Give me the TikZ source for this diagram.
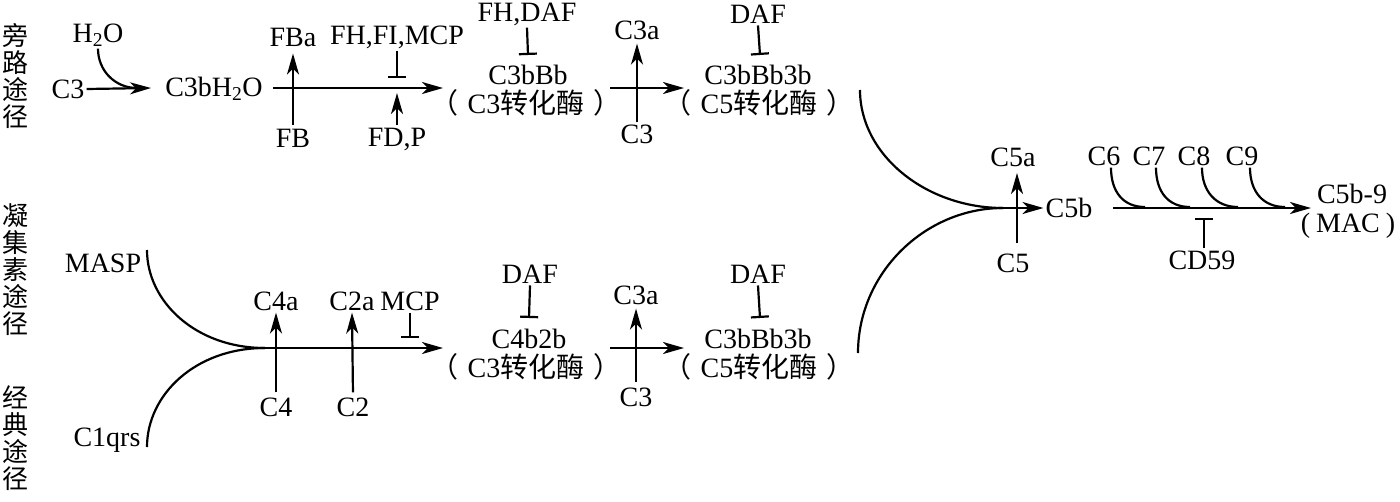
\documentclass[tikz,border=0pt]{standalone}
\usepackage{fontspec}
\setmainfont{Liberation Serif}
\newfontfamily\cjk{Noto Sans CJK SC}
\usetikzlibrary{arrows.meta}
\newcommand{\zh}[1]{{\cjk #1}}
\newcommand{\convtext}[1]{\zh{（}\hspace{9pt}#1\zh{转化酶}\hspace{9pt}\zh{）}}
\begin{document}
\begin{tikzpicture}[x=1pt,y=-1pt,
  lab/.style={inner sep=2pt, font=\fontsize{28}{28}\selectfont},
  vlab/.style={inner sep=0pt, align=center, font=\cjk\fontsize{26}{27}\selectfont},
  ln/.style={line width=2.2pt},
  arr/.style={ln, -{Stealth[length=21pt,width=12pt,inset=6pt]}},
  inh/.style={ln, -{Bar[width=18pt]}},
]
\useasboundingbox (0,0) rectangle (1400,501);

% vertical pathway labels
\node[vlab] (v1) at (15,76) {旁\\路\\途\\径};
\node[vlab] (v2) at (15,270) {凝\\集\\素\\途\\径};
\node[vlab] (v3) at (15,438) {经\\典\\途\\径};

% ---------- alternative pathway ----------
\node[lab] (c3) at (68,89) {C3};
\node[lab] (h2o) at (98,35) {H\textsubscript{2}O};
\node[lab] (c3bh2o) at (214,89) {C3bH\textsubscript{2}O};
\coordinate (t0) at (151,88);
\coordinate (j0) at (137,88);
\draw[arr] (c3.east) -- (t0);
\draw[ln] (h2o.south) .. controls +(0,22) and +(-22,0) .. (j0);

\coordinate (s1) at (273,88);
\coordinate (t1) at (443,88);
\draw[arr] (s1) -- (t1);

\node[lab] (fb) at (293,138) {FB};
\node[lab] (fba) at (293,37) {FBa};
\draw[arr, shorten <=2pt, shorten >=5pt] (fb.north) -- (fba.south);

\node[lab] (fh) at (397,37) {FH,FI,MCP};
\coordinate (b1) at (397,78);
\draw[inh] (fh.south) -- (b1);
\node[lab] (fdp) at (397,139) {FD,P};
\coordinate (a1) at (397,93);
\draw[arr] (fdp.north) -- (a1);

\node[lab] (fhdaf) at (527,14) {FH,DAF};
\node[lab] (c3bbb) at (528,75) {C3bBb};
\node[lab] (conv1) at (526,103) {\convtext{C3}};
\coordinate (b2) at (528,55);
\draw[inh] (fhdaf.south) -- (b2);

\coordinate (s2) at (610,88);
\coordinate (t2) at (684,88);
\draw[arr] (s2) -- (t2);
\node[lab] (c3a1) at (637,30) {C3a};
\node[lab] (c3d1) at (637,134) {C3};
\draw[arr, shorten >=2pt] (c3d1.north) -- (c3a1.south);

\node[lab] (daf1) at (758,14) {DAF};
\node[lab] (c5c1) at (758,75) {C3bBb3b};
\node[lab] (conv2) at (759,103) {\convtext{C5}};
\coordinate (b3) at (760,55);
\draw[inh] (daf1.south) -- (b3);

% ---------- lectin / classical pathway ----------
\node[lab] (masp) at (103,263) {MASP};
\node[lab] (c1) at (107,440) {C1qrs};
\coordinate (ms) at (147,250);
\coordinate (cs) at (147,447);
\coordinate (j1) at (265,348);
\draw[ln] (ms) .. controls +(0,51) and +(-70,0) .. (j1);
\draw[ln] (cs) .. controls +(0,-52) and +(-70,0) .. (j1);
\coordinate (t3) at (443,348);
\draw[arr] (j1) -- (t3);

\node[lab] (c4) at (276,407) {C4};
\node[lab] (c4a) at (276,301) {C4a};
\draw[arr, shorten <=3pt] (c4.north) -- (c4a.south);
\node[lab] (c2) at (353,407) {C2};
\node[lab] (c2a) at (352,301) {C2a};
\draw[arr, shorten <=3pt] (c2.north) -- (c2a.south);
\node[lab] (mcp) at (410,301) {MCP};
\coordinate (b4) at (410,338);
\draw[inh] (mcp.south) -- (b4);

\node[lab] (daf2) at (530,274) {DAF};
\node[lab] (c4b2b) at (529,339) {C4b2b};
\node[lab] (conv3) at (526,367) {\convtext{C3}};
\coordinate (b5) at (529,318);
\draw[inh] (daf2.south) -- (b5);

\coordinate (s4) at (610,348);
\coordinate (t4) at (684,348);
\draw[arr] (s4) -- (t4);
\node[lab] (c3a2) at (636,295) {C3a};
\node[lab] (c3d2) at (636,397) {C3};
\draw[arr, shorten <=3pt, shorten >=2pt] (c3d2.north) -- (c3a2.south);

\node[lab] (daf3) at (758,274) {DAF};
\node[lab] (c5c2) at (758,339) {C3bBb3b};
\node[lab] (conv4) at (759,367) {\convtext{C5}};
\coordinate (b6) at (760,318);
\draw[inh] (daf3.south) -- (b6);

% ---------- terminal pathway ----------
\coordinate (rt) at (860,90);
\coordinate (rb) at (858,353);
\coordinate (j2) at (1003,208);
\draw[ln] (rt) .. controls +(0,65) and +(-77,0) .. (j2);
\draw[ln] (rb) .. controls +(0,-80) and +(-78,0) .. (j2);
\node[lab] (c5b) at (1069,208) {C5b};
\draw[arr] (j2) -- (c5b.west);
\node[lab] (c5) at (1013,263) {C5};
\node[lab] (c5a) at (1013,157) {C5a};
\coordinate (c5bot) at (1017,243);
\coordinate (c5top) at (1017,173);
\draw[arr] (c5bot) -- (c5top);

\coordinate (s5) at (1113,208);
\coordinate (t5) at (1311,208);
\draw[arr] (s5) -- (t5);
\node[lab] (c6) at (1104,156) {C6};
\node[lab] (c7) at (1149,156) {C7};
\node[lab] (c8) at (1194,156) {C8};
\node[lab] (c9) at (1242,156) {C9};
\coordinate (e6) at (1145,207);
\coordinate (e7) at (1190,207);
\coordinate (e8) at (1238,207);
\coordinate (e9) at (1285,207);
\draw[ln] ([xshift=7pt]c6.south) .. controls +(0,24) and +(-22,0) .. (e6);
\draw[ln] ([xshift=7pt]c7.south) .. controls +(0,24) and +(-22,0) .. (e7);
\draw[ln] ([xshift=8pt]c8.south) .. controls +(0,24) and +(-22,0) .. (e8);
\draw[ln] ([xshift=8pt]c9.south) .. controls +(0,24) and +(-22,0) .. (e9);

\node[lab] (cd59) at (1202,260) {CD59};
\coordinate (b7) at (1204,218);
\draw[inh] (cd59.north -| b7) -- (b7);

\node[lab] (mac1) at (1352,194) {C5b-9};
\node[lab, inner sep=0pt] (mac2) at (1348,226) {(\hspace{6pt}MAC\hspace{6pt})};
\end{tikzpicture}
\end{document}
